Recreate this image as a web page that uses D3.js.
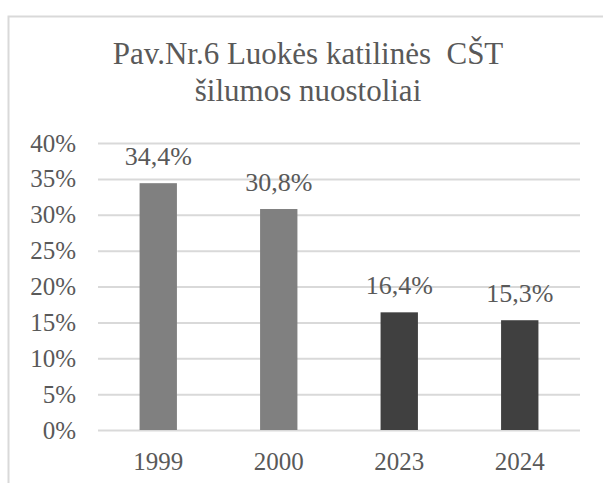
<!DOCTYPE html>
<html>
<head>
<meta charset="utf-8">
<script src="https://cdn.jsdelivr.net/npm/d3@7"></script>
<style>
  html, body { margin: 0; padding: 0; background: #fff; }
</style>
</head>
<body>
<div id="chart"></div>
<script>
const kWidth = 603;
const kHeight = 483;
const kFont = "'Liberation Serif', 'Times New Roman', serif";
const kTextColor = "#595959";

const titleLines = ["Pav.Nr.6 Luokės katilinės  CŠT", "šilumos nuostoliai"];
const years = ["1999", "2000", "2023", "2024"];
const losses = [0.344, 0.308, 0.164, 0.153];
const labels = ["34,4%", "30,8%", "16,4%", "15,3%"];
const barColors = ["#808080", "#808080", "#404040", "#404040"];
const yTicks = [0, 0.05, 0.10, 0.15, 0.20, 0.25, 0.30, 0.35, 0.40];

const plot = { left: 98, right: 580, top: 143, bottom: 430 };

const svg = d3.select("#chart")
  .append("svg")
  .attr("width", kWidth)
  .attr("height", kHeight);

// chart area border (only top/left visible in the crop)
svg.append("rect")
  .attr("x", 8.5)
  .attr("y", 16.5)
  .attr("width", 640)
  .attr("height", 520)
  .attr("fill", "#fff")
  .attr("stroke", "#d9d9d9")
  .attr("stroke-width", 2);

svg.append("text")
  .attr("text-anchor", "middle")
  .style("font-family", kFont)
  .style("font-size", "31px")
  .style("fill", kTextColor)
  .selectAll("tspan")
  .data(titleLines)
  .enter()
  .append("tspan")
  .attr("x", 308)
  .attr("y", (d, i) => 64 + i * 37)
  .style("white-space", "pre")
  .text(d => d);

const xScale = d3.scaleBand()
  .domain(years)
  .range([plot.left, plot.right])
  .paddingInner(0.69)
  .paddingOuter(0.345);

const yScale = d3.scaleLinear()
  .domain([0, 0.40])
  .range([plot.bottom, plot.top]);

const yAxis = d3.axisLeft(yScale)
  .tickValues(yTicks)
  .tickSize(-(plot.right - plot.left))
  .tickPadding(22)
  .tickFormat(d3.format(".0%"));

const yG = svg.append("g")
  .attr("transform", `translate(${plot.left}, 0)`)
  .call(yAxis);
yG.select(".domain").remove();
yG.selectAll("line").attr("stroke", "#d9d9d9").attr("stroke-width", 2);
yG.selectAll("text")
  .style("font-family", kFont)
  .style("font-size", "25px")
  .style("fill", kTextColor);

const xAxis = d3.axisBottom(xScale).tickSize(0).tickPadding(22);
const xG = svg.append("g")
  .attr("transform", `translate(0, ${plot.bottom})`)
  .call(xAxis);
xG.select(".domain").remove();
xG.selectAll("text")
  .style("font-family", kFont)
  .style("font-size", "25px")
  .style("fill", kTextColor);

svg.selectAll("rect.bar")
  .data(losses)
  .enter()
  .append("rect")
  .attr("class", "bar")
  .attr("x", (d, i) => xScale(years[i]))
  .attr("y", d => yScale(d))
  .attr("width", xScale.bandwidth())
  .attr("height", d => plot.bottom - yScale(d))
  .attr("fill", (d, i) => barColors[i]);

svg.selectAll("text.label")
  .data(losses)
  .enter()
  .append("text")
  .attr("class", "label")
  .attr("x", (d, i) => xScale(years[i]) + xScale.bandwidth() / 2)
  .attr("y", d => yScale(d) - 18)
  .attr("text-anchor", "middle")
  .style("font-family", kFont)
  .style("font-size", "26px")
  .style("fill", kTextColor)
  .text((d, i) => labels[i]);
</script>
</body>
</html>
